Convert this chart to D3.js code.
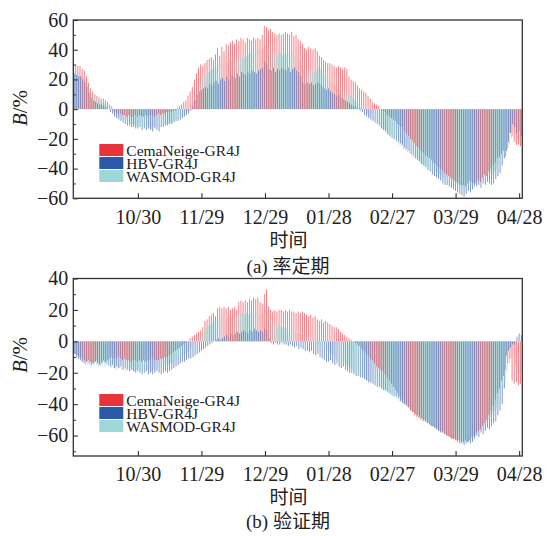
<!DOCTYPE html>
<meta charset="utf-8">
<style>
    body { margin: 0; background: #fff; }
    .frame { fill: none; stroke: #333; stroke-width: 1.3px; }
    .axis path { display: none; }
    .axis line { stroke: #333; stroke-width: 1.1px; }
</style>
<body>
<svg id="chart" width="547" height="536"></svg>
</body>
<script src="https://d3js.org/d3.v7.min.js"></script>
<script>

    var SERIF = "'Liberation Serif', 'Times New Roman', serif";
    var CJK = "'Noto Sans CJK SC', sans-serif";

    // days from 09/30 (index 0) to 04/29 (index 211); ticks every 30 days
    var tickDays = [30, 60, 90, 120, 150, 180, 210];
    var tickLabels = ["10/30", "11/29", "12/29", "01/28", "02/27", "03/29", "04/28"];
    var seriesNames = ["CemaNeige-GR4J", "HBV-GR4J", "WASMOD-GR4J"];
    var seriesColors = ["#e8323c", "#2d58a8", "#9dd7d6"];

    // (a) calibration period
    var calCema = [
        31,30,29,29,27,26,22,18,14,12, 10,9,8,7,7,6,5,3,2,-1,
        -2,-3,-3,-4,-4,-5,-4,-5,-5,-4, -5,-4,-5,-5,-4,-5,-4,-4,-5,-4,
        -3,-4,-3,-3,-2,-2,-2,-1,-1,1, 2,3,5,6,9,12,15,20,24,28,
        30,29,31,33,34,35,33,37,41,36, 42,39,44,43,45,46,44,47,46,48,
        47,45,48,47,46,48,47,48,47,50, 56,55,53,54,52,51,50,51,50,51,
        52,51,50,52,49,50,47,46,44,41, 40,42,41,40,41,39,36,35,33,32,
        31,31,30,29,28,29,28,27,28,27, 22,20,19,18,16,14,13,12,11,9,
        7,5,4,3,2,0,-1,-2,-4,-5, -6,-7,-8,-10,-11,-12,-14,-16,-18,-20,
        -21,-23,-25,-26,-28,-29,-31,-32,-33,-34, -36,-37,-39,-40,-41,-43,-44,-45,-46,-47,
        -48,-49,-50,-51,-51,-52,-50,-48,-49,-50, -50,-48,-49,-46,-44,-45,-42,-40,-38,-36,
        -33,-32,-30,-28,-32,-26,-16,-18,-22,-24, -24,-25
    ];
    var calHbv = [
        24,23,22,22,20,18,15,11,8,6, 5,4,3,3,2,1,0,-2,-3,-5,
        -6,-7,-8,-9,-10,-11,-11,-12,-12,-13, -13,-12,-14,-13,-14,-13,-14,-15,-13,-14,
        -15,-12,-12,-11,-11,-10,-10,-9,-8,-8, -7,-6,-5,-4,-3,-1,2,6,10,12,
        13,14,15,14,17,16,18,19,17,20, 21,19,22,20,23,22,21,24,22,25,
        24,23,25,24,26,25,24,26,27,28, 32,30,27,26,28,25,27,26,28,27,
        26,28,25,27,28,26,25,22,18,17, 18,17,18,16,17,18,17,15,14,13,
        14,12,11,10,9,10,8,7,6,5, 4,3,2,1,0,-1,-2,-4,-5,-6,
        -7,-8,-9,-10,-11,-13,-14,-15,-17,-18, -19,-20,-21,-22,-23,-24,-26,-27,-28,-30,
        -31,-33,-34,-35,-37,-38,-39,-41,-42,-44, -45,-46,-47,-48,-50,-51,-51,-52,-53,-54,
        -55,-56,-57,-58,-59,-57,-55,-56,-54,-52, -52,-51,-53,-50,-51,-49,-50,-51,-50,-47,
        -45,-43,-38,-33,-28,-22,-16,-10,-12,-16, -15,-18
    ];
    var calWasmod = [
        27,26,25,24,22,20,17,13,10,8, 7,6,5,4,4,3,2,0,-2,-4,
        -5,-6,-7,-8,-9,-9,-10,-10,-11,-11, -11,-12,-12,-11,-12,-12,-13,-12,-12,-12,
        -12,-11,-11,-10,-10,-9,-9,-8,-7,-6, -5,-4,-3,-2,-1,2,5,9,14,18,
        21,22,24,25,26,27,28,29,30,31, 31,32,31,33,32,33,34,33,35,34,
        35,36,37,38,39,38,40,41,40,41, 42,41,39,38,37,36,37,38,36,37,
        37,38,36,37,35,36,33,30,27,26, 25,26,24,25,26,28,27,24,22,21,
        20,18,17,15,14,13,12,11,10,10, 9,8,6,5,3,2,1,-1,-3,-5,
        -6,-7,-9,-10,-12,-13,-14,-16,-17,-19, -20,-21,-23,-24,-25,-27,-28,-29,-30,-32,
        -33,-34,-35,-36,-37,-38,-39,-40,-41,-41, -42,-43,-44,-45,-46,-47,-47,-48,-49,-49,
        -50,-51,-52,-53,-53,-52,-50,-51,-49,-48, -47,-46,-48,-45,-46,-44,-43,-44,-42,-40,
        -37,-35,-32,-30,-27,-24,-20,-15,-17,-20, -21,-22
    ];

    // (b) validation period
    var valCema = [
        -6,-8,-9,-10,-11,-12,-13,-12,-13,-14, -13,-12,-14,-13,-12,-13,-12,-11,-10,-11,
        -11,-10,-11,-12,-11,-12,-12,-13,-12,-12, -13,-12,-13,-12,-13,-12,-12,-11,-12,-12,
        -12,-11,-11,-10,-10,-9,-8,-7,-6,-5, -4,-3,-2,-1,0,2,3,4,5,6,
        7,9,13,14,16,17,18,16,21,22, 21,22,21,22,20,21,22,20,25,26,
        25,26,25,27,26,28,27,28,25,24, 30,33,22,20,19,20,19,20,20,19,
        20,19,20,19,19,18,19,18,19,18, 17,16,17,15,16,14,13,14,12,13,
        12,11,10,9,9,8,6,5,4,3, 2,1,0,-1,-2,-3,-5,-6,-8,-9,
        -11,-12,-14,-16,-17,-18,-19,-21,-23,-25, -27,-29,-31,-33,-35,-37,-39,-40,-42,-44,
        -45,-47,-48,-49,-50,-51,-51,-52,-53,-54, -54,-55,-56,-57,-58,-59,-60,-60,-61,-62,
        -62,-63,-63,-64,-64,-63,-64,-63,-61,-60, -58,-57,-56,-54,-52,-50,-47,-44,-41,-37,
        -33,-30,-25,-22,-18,-14,-11,-25,-27,-26, -28,-27
    ];
    var valHbv = [
        -8,-10,-11,-12,-13,-14,-13,-14,-15,-14, -13,-14,-15,-14,-13,-14,-15,-16,-15,-17,
        -16,-17,-16,-18,-17,-18,-19,-18,-19,-20, -19,-20,-21,-20,-19,-21,-20,-21,-20,-19,
        -20,-21,-20,-19,-20,-19,-18,-17,-16,-15, -14,-13,-13,-12,-11,-11,-10,-9,-8,-7,
        -6,-5,-4,-3,-2,-1,0,1,2,1, 2,3,4,3,5,4,5,6,5,6,
        7,6,5,7,6,8,7,6,7,6, 8,7,2,-1,-2,-1,-2,-2,-1,-2,
        -2,-3,-2,-3,-4,-3,-5,-4,-5,-6, -6,-7,-6,-8,-9,-8,-10,-11,-12,-13,
        -13,-12,-14,-15,-14,-16,-17,-16,-18,-19, -20,-20,-21,-22,-22,-23,-23,-24,-25,-26,
        -26,-27,-28,-29,-29,-30,-31,-31,-32,-33, -34,-35,-35,-36,-38,-39,-40,-41,-42,-44,
        -45,-46,-47,-48,-49,-50,-51,-52,-53,-54, -55,-56,-57,-58,-58,-59,-60,-61,-62,-62,
        -63,-64,-65,-65,-66,-65,-64,-65,-64,-62, -60,-61,-58,-59,-57,-55,-56,-54,-52,-51,
        -47,-44,-40,-30,-9,-6,-4,-2,-2,3, 5,4
    ];
    var valWasmod = [
        -7,-9,-11,-13,-14,-15,-15,-16,-16,-15, -15,-16,-16,-15,-16,-15,-16,-17,-17,-18,
        -18,-17,-18,-18,-19,-18,-19,-18,-19,-18, -18,-19,-18,-19,-18,-18,-19,-18,-18,-17,
        -17,-16,-16,-15,-15,-14,-14,-13,-12,-11, -10,-9,-8,-7,-6,-4,-3,-1,1,3,
        5,7,9,10,11,12,13,13,14,14, 15,14,15,16,15,16,17,16,17,18,
        17,18,17,18,19,18,19,18,19,18, 20,19,14,12,11,10,10,9,9,8,
        8,7,7,6,6,5,5,4,4,3, 3,2,1,0,-1,-2,-3,-4,-5,-6,
        -7,-8,-9,-10,-11,-12,-13,-14,-15,-16, -17,-18,-19,-20,-21,-22,-23,-24,-25,-26,
        -26,-27,-28,-29,-29,-30,-31,-32,-33,-34, -35,-36,-37,-38,-39,-40,-41,-42,-43,-44,
        -45,-46,-47,-48,-49,-50,-51,-52,-52,-53, -54,-55,-56,-57,-57,-58,-59,-60,-60,-61,
        -62,-62,-63,-63,-64,-63,-62,-62,-61,-60, -58,-57,-55,-54,-52,-50,-48,-46,-44,-42,
        -38,-34,-30,-25,-20,-14,-10,-9,-15,-20, -21,-20
    ];

    var svg = d3.select("#chart");

    var left = 73.3, right = 522.3;
    var x = d3.scaleLinear().domain([-0.5, 211.5]).range([left, right]);

    var panels = [
        {
            series: [calCema, calHbv, calWasmod],
            top: 20, bottom: 198.3, domain: [-60, 60],
            major: [-60, -40, -20, 0, 20, 40, 60],
            minor: [-50, -30, -10, 10, 30, 50],
            titleY: 108, labelY: 217, xTitleY: 240.5, capY: 266,
            caption: ["(a) ", "率定期"], legendTop: 144
        },
        {
            series: [valCema, valHbv, valWasmod],
            top: 278.5, bottom: 456, domain: [-73, 40],
            major: [-60, -40, -20, 0, 20, 40],
            minor: [-70, -50, -30, -10, 10, 30],
            titleY: 355, labelY: 474, xTitleY: 497, capY: 521,
            caption: ["(b) ", "验证期"], legendTop: 394
        }
    ];

    panels.forEach(drawPanel);

    function drawPanel(p) {
        var y = d3.scaleLinear().domain(p.domain).range([p.bottom, p.top]);
        var g = svg.append("g");

        var barW = 0.72;
        p.series.forEach(function (values, k) {
            g.append("g")
                .attr("fill", seriesColors[k])
                .attr("fill-opacity", 0.82)
                .selectAll("rect")
                .data(values)
                .join("rect")
                .attr("x", function (d, i) { return x(i) + (k - 1) * barW - barW / 2; })
                .attr("width", barW)
                .attr("y", function (d) { return y(Math.max(0, d)); })
                .attr("height", function (d) { return Math.abs(y(d) - y(0)); });
        });

        // y axis, ticks pointing inwards
        g.append("g")
            .attr("class", "axis")
            .attr("transform", "translate(" + left + ",0)")
            .call(d3.axisLeft(y).tickValues(p.major).tickSize(-4.5).tickPadding(5))
            .selectAll("text")
            .style("font-family", SERIF)
            .style("font-size", "20px")
            .style("fill", "#222");
        g.append("g")
            .attr("class", "axis")
            .attr("transform", "translate(" + left + ",0)")
            .call(d3.axisLeft(y).tickValues(p.minor).tickSize(-2.5).tickFormat(""));

        // x axis
        var xa = g.append("g")
            .attr("class", "axis")
            .attr("transform", "translate(0," + p.bottom + ")")
            .call(d3.axisBottom(x).tickValues(tickDays).tickSize(-5)
                .tickFormat(function (d, i) { return tickLabels[i]; }));
        xa.selectAll("text")
            .style("font-family", SERIF)
            .style("font-size", "20px")
            .style("fill", "#222")
            .attr("y", p.labelY - p.bottom)
            .attr("dy", "0.35em");

        g.append("rect")
            .attr("class", "frame")
            .attr("x", left).attr("y", p.top)
            .attr("width", right - left).attr("height", p.bottom - p.top);

        // y title
        var yt = g.append("text")
            .attr("transform", "translate(20," + p.titleY + ") rotate(-90)")
            .attr("text-anchor", "middle")
            .attr("dy", "0.35em")
            .style("font-family", SERIF)
            .style("font-size", "21px")
            .style("fill", "#222");
        yt.append("tspan").style("font-style", "italic").text("B");
        yt.append("tspan").text("/%");

        g.append("text")
            .attr("x", 288.5).attr("y", p.xTitleY)
            .attr("text-anchor", "middle")
            .attr("dy", "0.36em")
            .style("font-family", CJK)
            .style("font-size", "19px")
            .style("fill", "#222")
            .text("时间");

        var cap = g.append("text")
            .attr("x", 288).attr("y", p.capY)
            .attr("text-anchor", "middle")
            .attr("dy", "0.36em")
            .style("font-family", SERIF)
            .style("font-size", "19px")
            .style("fill", "#222");
        cap.append("tspan").text(p.caption[0]);
        cap.append("tspan").style("font-family", CJK).text(p.caption[1]);

        // legend
        var lg = g.append("g").attr("transform", "translate(99.3," + p.legendTop + ")");
        seriesNames.forEach(function (name, k) {
            lg.append("rect")
                .attr("x", 0).attr("y", k * 13)
                .attr("width", 24).attr("height", 12)
                .attr("fill", seriesColors[k]);
            lg.append("text")
                .attr("x", 27).attr("y", k * 13 + 12)
                .style("font-family", SERIF)
                .style("font-size", "15.5px")
                .style("fill", "#222")
                .text(name);
        });
    }

</script>
